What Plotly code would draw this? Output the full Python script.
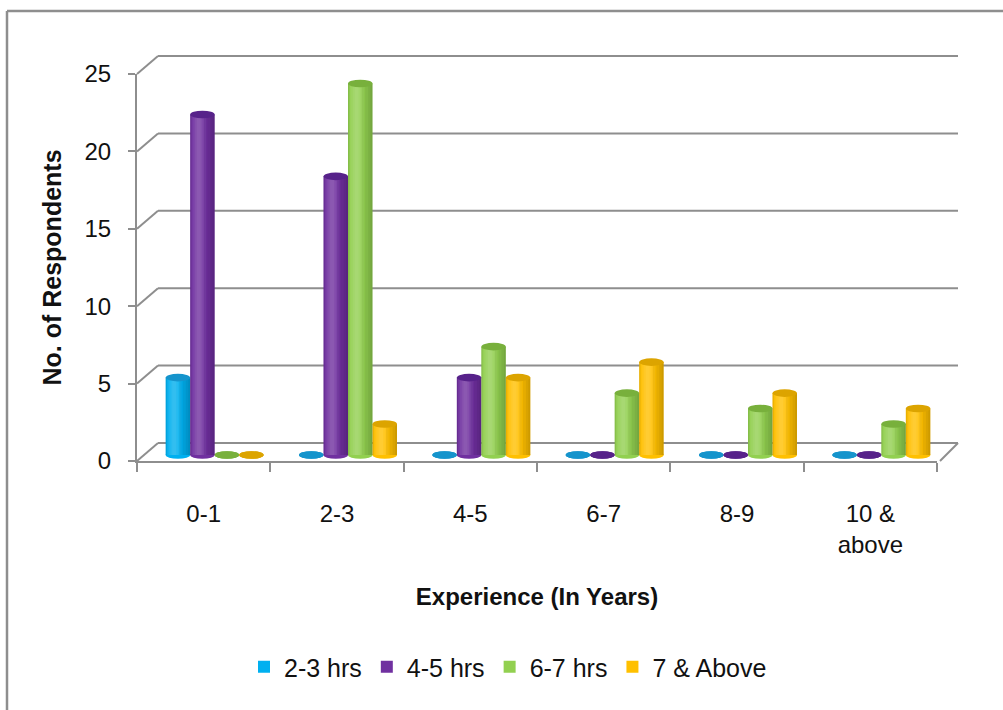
import plotly.graph_objects as go

# ---------------- data ----------------
categories = ["0-1", "2-3", "4-5", "6-7", "8-9", "10 &<br>above"]
series_names = ["2-3 hrs", "4-5 hrs", "6-7 hrs", "7 & Above"]
hrs_2_3 = [5, 0, 0, 0, 0, 0]
hrs_4_5 = [22, 18, 5, 0, 0, 0]
hrs_6_7 = [0, 24, 7, 4, 3, 2]
hrs_7_above = [0, 2, 5, 6, 4, 3]
y_ticks = [0, 5, 10, 15, 20, 25]

series_values = [hrs_2_3, hrs_4_5, hrs_6_7, hrs_7_above]
body_colors = ["#00B0F0", "#7030A0", "#92D050", "#FFC000"]
cap_colors = ["#1594CC", "#57228A", "#78B03C", "#DCA400"]

# ---------------- geometry (pixels) ----------------
W, H = 1003, 710
FX0, FX1 = 137, 937          # front category axis extent
Y0_PX, YTOP_PX = 461, 74     # value 0 and value 25 on the front axis
YMAX = 25
PPU = (Y0_PX - YTOP_PX) / YMAX
DX_BAR, DY_BAR = 11, 6       # bars sit mid-depth
DX_WALL, DY_WALL = 21, 18    # back wall offset
GRID = "#8E8E8E"
FONT = "Liberation Sans, Arial, sans-serif"


def px(x):
    return x / W


def py(y):
    return 1 - y / H


fig = go.Figure()

# empty trace so that the front (labelled) axes are created
fig.add_trace(go.Scatter(x=[], y=[], xaxis="x", yaxis="y", showlegend=False,
                         hoverinfo="skip", mode="markers"))

for name, vals, col in zip(series_names, series_values, body_colors):
    fig.add_trace(go.Bar(
        name=name, x=categories, y=vals,
        xaxis="x2", yaxis="y2",
        marker=dict(color=col, line=dict(width=0)),
        hoverinfo="x+y+name",
    ))

bargap = 0.265
n = len(series_names)
gw = 1 - bargap
bw = gw / n
ry = 3.8 / PPU

# nested cylinder shading bands: (start, end as fraction of bar width, rgba)
WHITE = "rgba(255,255,255,0.055)"
DARK = "rgba(0,0,0,0.05)"
bands = [(0.05, 0.65, WHITE), (0.13, 0.57, WHITE), (0.20, 0.50, WHITE), (0.27, 0.43, WHITE),
         (0.55, 1.00, DARK), (0.70, 1.00, DARK), (0.82, 1.00, DARK), (0.92, 1.00, DARK),
         (0.00, 0.08, DARK), (0.00, 0.03, DARK)]

shapes = []
# bottoms of cylinders (below the bar bodies)
for j, vals in enumerate(series_values):
    for i, v in enumerate(vals):
        c = i - gw / 2 + (j + 0.5) * bw
        shapes.append(dict(type="circle", xref="x2", yref="y2",
                           x0=c - bw / 2, x1=c + bw / 2, y0=-ry, y1=ry,
                           fillcolor=cap_colors[j] if v == 0 else body_colors[j],
                           line=dict(width=0), layer="below"))
# shading on bodies
for j, vals in enumerate(series_values):
    for i, v in enumerate(vals):
        if v <= 0:
            continue
        left = i - gw / 2 + j * bw
        for a, b, col in bands:
            shapes.append(dict(type="rect", xref="x2", yref="y2",
                               x0=left + a * bw, x1=left + b * bw, y0=0, y1=v,
                               fillcolor=col, line=dict(width=0), layer="above"))
# tops of cylinders
for j, vals in enumerate(series_values):
    for i, v in enumerate(vals):
        c = i - gw / 2 + (j + 0.5) * bw
        shapes.append(dict(type="circle", xref="x2", yref="y2",
                           x0=c - bw / 2, x1=c + bw / 2, y0=v - ry, y1=v + ry,
                           fillcolor=cap_colors[j], line=dict(width=0), layer="above"))

# back wall gridlines and side diagonals
for v in y_ticks:
    yf = Y0_PX - v * PPU
    yb = yf - DY_WALL
    shapes.append(dict(type="line", xref="paper", yref="paper",
                       x0=px(FX0), y0=py(yf), x1=px(FX0 + DX_WALL), y1=py(yb),
                       line=dict(color=GRID, width=2), layer="below"))
    shapes.append(dict(type="line", xref="paper", yref="paper",
                       x0=px(FX0 + DX_WALL), y0=py(yb), x1=px(FX1 + DX_WALL), y1=py(yb),
                       line=dict(color=GRID, width=2), layer="below"))
# right floor edge
shapes.append(dict(type="line", xref="paper", yref="paper",
                   x0=px(FX1 + 3), y0=py(Y0_PX), x1=px(FX1 + DX_WALL), y1=py(Y0_PX - DY_WALL),
                   line=dict(color=GRID, width=2), layer="below"))
# chart border (top + left)
shapes.append(dict(type="line", xref="paper", yref="paper",
                   x0=px(7), y0=0, x1=px(7), y1=py(11),
                   line=dict(color=GRID, width=2.5)))
shapes.append(dict(type="line", xref="paper", yref="paper",
                   x0=px(7), y0=py(11), x1=1, y1=py(11),
                   line=dict(color=GRID, width=2.5)))

fig.update_layout(
    width=W, height=H,
    margin=dict(l=0, r=0, t=0, b=0, autoexpand=False),
    paper_bgcolor="white", plot_bgcolor="rgba(0,0,0,0)",
    font=dict(family=FONT, size=24, color="#111111"),
    barmode="group", bargap=bargap, bargroupgap=0,
    showlegend=True,
    legend=dict(orientation="h", x=px(244), y=py(667), xanchor="left", yanchor="middle",
                font=dict(size=25), itemwidth=30,
                bgcolor="rgba(0,0,0,0)", traceorder="normal"),
    xaxis=dict(
        domain=[px(FX0), px(FX1)], range=[-0.5, len(categories) - 0.5],
        tickmode="array", tickvals=list(range(len(categories))), ticktext=categories,
        ticks="", showgrid=False, zeroline=False,
        showline=True, linecolor=GRID, linewidth=2,
        minor=dict(tickmode="linear", tick0=-0.5, dtick=1, ticks="outside",
                   ticklen=9, tickwidth=2, tickcolor=GRID, showgrid=False),
        ticklabelstandoff=30, automargin=False,
        tickfont=dict(size=24),
        title=dict(text="<b>Experience (In Years)</b>", font=dict(size=24), standoff=31),
        anchor="y", fixedrange=True,
    ),
    yaxis=dict(
        domain=[py(Y0_PX), py(YTOP_PX)], range=[0, YMAX],
        tickmode="array", tickvals=y_ticks,
        ticks="outside", ticklen=7, tickwidth=2, tickcolor=GRID,
        showline=True, linecolor=GRID, linewidth=2,
        showgrid=False, zeroline=False,
        ticklabelstandoff=12, tickfont=dict(size=24), automargin=False,
        title=dict(text="<b>No. of Respondents</b>", font=dict(size=25), standoff=16),
        anchor="x", fixedrange=True,
    ),
    xaxis2=dict(
        domain=[px(FX0 + DX_BAR), px(FX1 + DX_BAR)], type="category",
        categoryorder="array", categoryarray=categories,
        range=[-0.5, len(categories) - 0.5], visible=False, anchor="y2", fixedrange=True,
    ),
    yaxis2=dict(
        domain=[py(Y0_PX - DY_BAR + PPU), py(Y0_PX - DY_BAR - YMAX * PPU)],
        range=[-1, YMAX], visible=False, anchor="x2", fixedrange=True,
    ),
    shapes=shapes,
)

fig.write_html("out.html")
